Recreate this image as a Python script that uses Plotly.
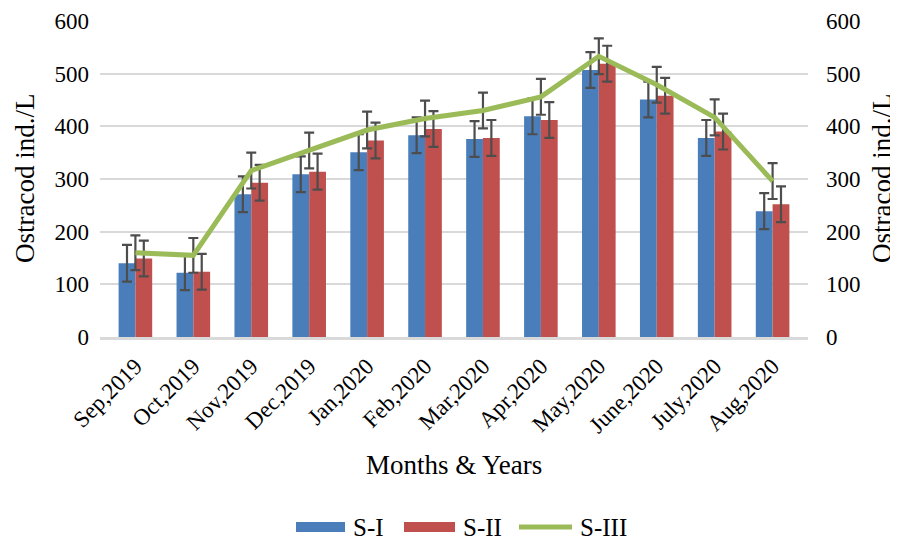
import plotly.graph_objects as go

months = ["Sep,2019", "Oct,2019", "Nov,2019", "Dec,2019", "Jan,2020", "Feb,2020",
          "Mar,2020", "Apr,2020", "May,2020", "June,2020", "July,2020", "Aug,2020"]
s1 = [140, 122, 271, 309, 351, 383, 376, 419, 507, 451, 378, 239]
s2 = [149, 124, 293, 314, 373, 395, 378, 412, 519, 458, 390, 252]
s3 = [160, 155, 316, 354, 393, 415, 430, 456, 533, 479, 417, 296]
err1 = [35, 33, 34, 34, 34, 34, 34, 34, 34, 34, 34, 34]
err2 = [34, 34, 34, 34, 34, 34, 34, 34, 34, 34, 34, 34]
err3 = [33, 33, 34, 34, 35, 34, 34, 34, 34, 34, 34, 34]
yticks = [0, 100, 200, 300, 400, 500, 600]
series_names = ["S-I", "S-II", "S-III"]
colors = ["#4a7ebb", "#c0504d", "#9bbb59"]

FONT = "Liberation Serif"
ERRC = "#4d4d4d"

# page body has an 8px margin; figure sized so it ends at the window edge
OFF = 8
FIG_W, FIG_H = 898 - OFF, 545 - OFF
# plot area in window pixels
L, R, T, B = 100, 808, 21, 337
W, H = R - L, B - T

def px_x(x):
    return (x - L) / W

def px_y(y):
    return (B - y) / H

def err(vals):
    return dict(type="data", array=vals, visible=True, color=ERRC, thickness=2.2, width=5)

fig = go.Figure()
fig.add_trace(go.Bar(x=months, y=s1, name=series_names[0], marker=dict(color=colors[0], line=dict(width=0)),
                     error_y=err(err1)))
fig.add_trace(go.Bar(x=months, y=s2, name=series_names[1], marker=dict(color=colors[1], line=dict(width=0)),
                     error_y=err(err2)))
fig.add_trace(go.Scatter(x=months, y=s3, name=series_names[2], mode="lines", yaxis="y2",
                         line=dict(color=colors[2], width=5), error_y=err(err3)))

axis_font = dict(family=FONT, size=23, color="#000000")

# manual legend (wide swatches like the original)
ly = 527
shapes = [
    dict(type="rect", xref="paper", yref="paper", x0=px_x(296), x1=px_x(345),
         y0=px_y(532), y1=px_y(522), fillcolor=colors[0], line=dict(width=0)),
    dict(type="rect", xref="paper", yref="paper", x0=px_x(404), x1=px_x(455),
         y0=px_y(532), y1=px_y(522), fillcolor=colors[1], line=dict(width=0)),
    dict(type="line", xref="paper", yref="paper", x0=px_x(519), x1=px_x(572),
         y0=px_y(ly), y1=px_y(ly), line=dict(color=colors[2], width=5)),
]
legend_text = [(series_names[0], 351), (series_names[1], 461), (series_names[2], 578)]

annotations = [
    dict(text="Ostracod ind./L", xref="paper", yref="paper", x=px_x(25), y=px_y(179),
         textangle=-90, showarrow=False, font=dict(family=FONT, size=27), xanchor="center", yanchor="middle"),
    dict(text="Ostracod ind./L", xref="paper", yref="paper", x=px_x(882), y=px_y(179),
         textangle=-90, showarrow=False, font=dict(family=FONT, size=27), xanchor="center", yanchor="middle"),
    dict(text="Months & Years", xref="paper", yref="paper", x=px_x(454), y=px_y(465),
         showarrow=False, font=dict(family=FONT, size=27), xanchor="center", yanchor="middle"),
]
for name, xpx in legend_text:
    annotations.append(dict(text=name, xref="paper", yref="paper", x=px_x(xpx), y=px_y(ly),
                            showarrow=False, font=dict(family=FONT, size=25),
                            xanchor="left", yanchor="middle"))

fig.update_layout(
    width=FIG_W, height=FIG_H, autosize=False,
    margin=dict(l=L - OFF, r=FIG_W - (R - OFF), t=T - OFF, b=FIG_H - (B - OFF), autoexpand=False),
    paper_bgcolor="white", plot_bgcolor="white",
    barmode="group", bargap=0.42, bargroupgap=0,
    font=dict(family=FONT, size=23, color="#000000"),
    xaxis=dict(tickangle=-45, tickfont=dict(family=FONT, size=23), showgrid=False,
               showline=True, linecolor="#d9d9d9", linewidth=2.5, ticks="", ticklen=0,
               ticklabelstandoff=4),
    yaxis=dict(range=[0, 600], tickvals=yticks, tickfont=axis_font, showgrid=True,
               gridcolor="#d9d9d9", gridwidth=1.5, zeroline=False, showline=False, ticks="",
               ticklabelstandoff=10),
    yaxis2=dict(range=[0, 600], tickvals=yticks, tickfont=axis_font, overlaying="y", side="right",
                showgrid=False, zeroline=False, showline=False, ticks="", ticklabelstandoff=17),
    showlegend=False,
    shapes=shapes,
    annotations=annotations,
)
fig.write_html("out.html")
